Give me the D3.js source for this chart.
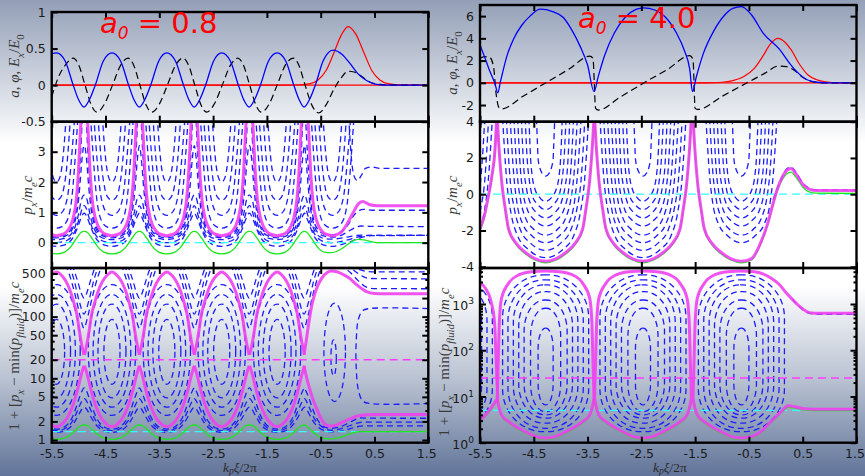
<!DOCTYPE html>
<html><head><meta charset="utf-8">
<script src="https://cdn.jsdelivr.net/npm/d3@7"></script>
<style>
html,body{margin:0;padding:0;}
svg{display:block;}
text{white-space:pre;}
</style></head><body>
<div id="chart"></div>
<script>
var xTicks = [-5.5,-4.5,-3.5,-2.5,-1.5,-0.5,0.5,1.5];
var a0Labels = ['0.8', '4.0'];

// ---------- a0 = 0.8 (left column) ----------
var cellsA = [-5.41,-4.38,-3.36,-2.34,-1.31];    // bucket centres
var xptsA  = [-4.9,-3.87,-2.85,-1.83,-0.81];     // X-points
var lastA  = -0.28;

var laserA = [[-5.5,0],[-1.2,0],[-0.9,0.005],[-0.7,0.02],[-0.55,0.07],[-0.4,0.2],[-0.25,0.45],[-0.12,0.68],[0.01,0.8],[0.15,0.7],[0.3,0.45],[0.45,0.2],[0.6,0.07],[0.75,0.02],[0.95,0.003],[1.2,0],[1.5,0]];
var fieldA = [[-5.5,0.43],[-5.41,0.44],[-5.25,0.33],[-5.1,0],[-5.0,-0.2],[-4.9,-0.3],[-4.8,-0.2],[-4.69,0],[-4.54,0.33],[-4.38,0.44],[-4.22,0.33],[-4.07,0],[-3.97,-0.2],[-3.87,-0.3],[-3.77,-0.2],[-3.66,0],[-3.51,0.33],[-3.36,0.44],[-3.2,0.33],[-3.05,0],[-2.95,-0.2],[-2.85,-0.3],[-2.75,-0.2],[-2.64,0],[-2.49,0.33],[-2.34,0.44],[-2.18,0.33],[-2.03,0],[-1.93,-0.2],[-1.83,-0.3],[-1.73,-0.2],[-1.62,0],[-1.47,0.33],[-1.31,0.44],[-1.15,0.33],[-1.0,0],[-0.9,-0.2],[-0.81,-0.3],[-0.71,-0.2],[-0.6,0],[-0.45,0.34],[-0.27,0.48],[-0.1,0.42],[0.04,0.3],[0.2,0.15],[0.36,0.06],[0.54,0.01],[0.7,0],[1.5,0]];
var potA = [[-5.5,-0.16],[-5.38,0.1],[-5.24,0.28],[-5.1,0.37],[-5.0,0.28],[-4.88,0],[-4.76,-0.28],[-4.66,-0.37],[-4.52,-0.26],[-4.37,0],[-4.22,0.27],[-4.08,0.37],[-3.98,0.28],[-3.86,0],[-3.74,-0.28],[-3.64,-0.37],[-3.5,-0.26],[-3.35,0],[-3.2,0.27],[-3.06,0.37],[-2.96,0.28],[-2.84,0],[-2.72,-0.28],[-2.62,-0.37],[-2.48,-0.26],[-2.33,0],[-2.18,0.27],[-2.04,0.37],[-1.94,0.28],[-1.82,0],[-1.7,-0.28],[-1.6,-0.37],[-1.46,-0.26],[-1.31,0],[-1.16,0.27],[-1.01,0.37],[-0.91,0.28],[-0.79,0],[-0.66,-0.28],[-0.54,-0.38],[-0.4,-0.27],[-0.25,-0.05],[-0.12,0.1],[0.01,0.19],[0.12,0.18],[0.24,0.13],[0.42,0.04],[0.6,0.01],[0.8,0],[1.5,0]];

// px panel, half curves from bucket centre (dx, px)
var sepPxA = [[0,0.23],[0.1,0.27],[0.17,0.33],[0.22,0.43],[0.27,0.6],[0.31,0.82],[0.37,1.47],[0.41,2.46],[0.44,3.56],[0.46,4.2]];
var sepPxTailA = [[-0.28,0.23],[-0.18,0.28],[-0.1,0.38],[0.0,0.65],[0.1,0.98],[0.2,1.28],[0.28,1.36],[0.4,1.26],[0.55,1.22],[1.5,1.22]];
var trapPxA = [
    [[0,0.48],[0.1,0.53],[0.17,0.65],[0.23,0.9],[0.28,1.4],[0.33,2.4],[0.37,3.4],[0.4,4.2]],
    [[0,0.9],[0.09,0.98],[0.16,1.2],[0.22,1.7],[0.27,2.6],[0.31,3.5],[0.34,4.2]],
    [[0,1.4],[0.08,1.5],[0.14,1.85],[0.19,2.5],[0.23,3.4],[0.26,4.2]],
    [[0,2.0],[0.05,2.1],[0.1,2.5],[0.14,3.2],[0.18,4.2]]
];
var passPxA = [
    [[0,0.2],[0.12,0.24],[0.2,0.3],[0.27,0.45],[0.33,0.75],[0.38,1.3],[0.42,2.2],[0.46,3.4],[0.49,4.8],[0.51,6.0]],
    [[0,0.16],[0.12,0.19],[0.2,0.25],[0.28,0.4],[0.34,0.68],[0.39,1.15],[0.43,1.8],[0.47,2.7],[0.51,3.2]],
    [[0,0.1],[0.12,0.13],[0.2,0.18],[0.28,0.3],[0.35,0.55],[0.41,0.95],[0.46,1.4],[0.51,1.57]],
    [[0,0.0],[0.12,0.03],[0.2,0.08],[0.28,0.2],[0.36,0.45],[0.43,0.85],[0.48,1.14],[0.51,1.22]],
    [[0,-0.12],[0.12,-0.09],[0.2,-0.03],[0.3,0.15],[0.38,0.45],[0.45,0.78],[0.51,0.97]]
];
var passPxTailA = [
    [[-0.81,6.0],[-0.79,4.8],[-0.76,3.4],[-0.72,2.2],[-0.68,1.3],[-0.63,0.75],[-0.56,0.45],[-0.48,0.32],[-0.38,0.26],[-0.28,0.26],[-0.18,0.3],[-0.08,0.42],[0.02,0.62],[0.1,0.86],[0.2,1.04],[0.3,1.1],[0.45,1.07],[1.5,1.07]],
    [[-0.81,3.2],[-0.77,2.7],[-0.73,1.8],[-0.69,1.15],[-0.64,0.68],[-0.58,0.4],[-0.5,0.26],[-0.4,0.2],[-0.3,0.18],[-0.2,0.2],[-0.1,0.26],[0.0,0.36],[0.12,0.48],[0.25,0.55],[0.4,0.54],[1.5,0.53]],
    [[-0.81,1.57],[-0.76,1.4],[-0.71,0.95],[-0.65,0.55],[-0.58,0.3],[-0.5,0.18],[-0.4,0.13],[-0.3,0.12],[-0.2,0.13],[-0.05,0.17],[0.1,0.22],[0.25,0.25],[0.4,0.24],[1.5,0.24]],
    [[-0.81,1.22],[-0.78,1.14],[-0.73,0.85],[-0.66,0.45],[-0.58,0.2],[-0.5,0.08],[-0.4,0.02],[-0.3,0.0],[-0.15,0.03],[0.0,0.09],[0.15,0.17],[0.3,0.22],[0.45,0.24],[1.5,0.24]],
    [[-0.81,0.97],[-0.75,0.78],[-0.68,0.45],[-0.6,0.15],[-0.5,-0.03],[-0.4,-0.1],[-0.3,-0.12],[-0.15,-0.08],[0.0,0.0],[0.15,0.1],[0.3,0.19],[0.45,0.23],[1.5,0.24]]
];
var openPxA = [[0.02,4.2],[0.06,3.0],[0.12,2.2],[0.18,2.05],[0.25,2.2],[0.33,2.45],[0.45,2.5],[0.6,2.45],[1.5,2.45]];
var fluidPxA = [[0,-0.37],[0.15,-0.31],[0.27,-0.12],[0.37,0.14],[0.45,0.33],[0.51,0.37]];
var fluidPxTailA = [[-0.81,0.37],[-0.75,0.33],[-0.67,0.14],[-0.57,-0.12],[-0.45,-0.3],[-0.3,-0.33],[-0.15,-0.24],[0.0,-0.06],[0.1,0.06],[0.2,0.11],[0.3,0.09],[0.45,0.03],[0.6,0.0],[1.5,0.0]];

// log panel
var sepUpA = [[0,530],[0.07,490],[0.14,417],[0.2,340],[0.26,253],[0.32,170],[0.38,106],[0.42,62],[0.46,38],[0.51,24]];
var sepLoA = [[0,1.65],[0.07,1.72],[0.14,1.95],[0.2,2.3],[0.26,2.9],[0.32,4.0],[0.38,6.0],[0.42,8.3],[0.46,11.5],[0.51,16]];
var sepUpTailA = [[-0.81,24],[-0.77,40],[-0.72,80],[-0.66,160],[-0.58,280],[-0.48,420],[-0.38,520],[-0.3,550],[-0.2,535],[-0.08,480],[0.05,410],[0.15,340],[0.25,290],[0.35,255],[0.5,238],[0.7,235],[1.5,235]];
var sepLoTailA = [[-0.81,16],[-0.77,11],[-0.72,7.5],[-0.66,5],[-0.58,3.3],[-0.5,2.3],[-0.42,1.8],[-0.34,1.68],[-0.25,1.7],[-0.14,1.86],[0.04,2.19],[0.15,2.4],[0.23,2.5],[0.36,2.56],[0.5,2.6],[1.5,2.6]];
var orbitsA = [[0.44,2.5,330],[0.35,3.4,230],[0.26,4.8,160],[0.15,8,90]];   // half width, min, max
var orbitsLastA = [[-0.26,0.05,11,42],[-0.24,0.2,4.2,165]];               // centre, half width, min, max
var overA = [
    [[0,65],[0.07,100],[0.15,200],[0.25,420],[0.34,700]],
    [[0,110],[0.09,180],[0.18,380],[0.28,700]],
    [[0,200],[0.05,240],[0.12,380],[0.22,700]]
];
var overTailA = [
    [[0.05,700],[0.2,590],[0.35,540],[0.5,530],[1.5,530]],
    [[-0.05,700],[0.12,560],[0.28,450],[0.42,415],[1.5,410]],
    [[-0.15,700],[0.05,520],[0.2,380],[0.35,300],[0.5,285],[1.5,283]]
];
var underA = [
    [[0,1.5],[0.12,1.58],[0.22,1.85],[0.3,2.4],[0.37,3.5],[0.43,5.0],[0.48,6.4],[0.51,7]],
    [[0,1.42],[0.12,1.48],[0.22,1.68],[0.3,2.05],[0.38,2.85],[0.45,3.95],[0.51,4.7]],
    [[0,1.33],[0.12,1.38],[0.22,1.52],[0.32,1.88],[0.4,2.45],[0.47,3.15],[0.51,3.4]]
];
var underTailA = [
    [[-0.81,7],[-0.78,6.4],[-0.73,5.1],[-0.67,3.6],[-0.6,2.5],[-0.52,1.9],[-0.43,1.62],[-0.3,1.55],[-0.15,1.62],[0,1.85],[0.12,2.1],[0.25,2.28],[0.4,2.26],[1.5,2.25]],
    [[-0.81,4.7],[-0.75,4.0],[-0.68,2.9],[-0.6,2.1],[-0.5,1.7],[-0.4,1.5],[-0.3,1.44],[-0.15,1.5],[0,1.65],[0.15,1.85],[0.3,1.96],[0.45,1.95],[1.5,1.95]],
    [[-0.81,3.4],[-0.77,3.2],[-0.7,2.5],[-0.62,1.9],[-0.52,1.55],[-0.4,1.4],[-0.3,1.35],[-0.15,1.38],[0,1.48],[0.15,1.62],[0.3,1.7],[0.45,1.7],[1.5,1.7]]
];
var openLogA = [[1.5,135],[0.4,135],[0.28,125],[0.2,90],[0.16,40],[0.16,15],[0.2,6.5],[0.28,4.3],[0.42,3.9],[1.5,3.9]];
var fluidLogA = [[0,1.02],[0.15,1.07],[0.27,1.24],[0.37,1.5],[0.45,1.7],[0.51,1.75]];
var fluidLogTailA = [[-0.81,1.75],[-0.7,1.5],[-0.6,1.25],[-0.48,1.08],[-0.35,1.04],[-0.2,1.07],[-0.05,1.18],[0.1,1.3],[0.22,1.37],[0.4,1.37],[1.5,1.37]];
var levelsA = {pxFluid: 0, trap: 20, fluid: 1.37};

// ---------- a0 = 4.0 (right column) ----------
var cellsB = [-4.28,-2.47,-0.64];
var xptsB  = [-5.17,-3.38,-1.55];
var edgeB  = -6.07;

var laserB = [[-5.5,0],[-1.3,0],[-1.0,0.05],[-0.8,0.2],[-0.6,0.55],[-0.4,1.3],[-0.24,2.4],[-0.1,3.5],[0.04,4.0],[0.16,3.7],[0.28,3.0],[0.45,1.6],[0.6,0.7],[0.75,0.3],[1.0,0.05],[1.2,0],[1.5,0]];
var fieldB = [[-5.5,3.4],[-5.42,2.4],[-5.33,1.2],[-5.22,-0.1],[-5.17,-0.9],[-5.12,0.1],[-5.0,2.4],[-4.88,3.9],[-4.72,5.2],[-4.57,6.0],[-4.38,6.62],[-4.15,6.4],[-3.95,5.87],[-3.8,4.8],[-3.64,3.3],[-3.5,1.6],[-3.38,-0.8],[-3.3,0.6],[-3.18,2.5],[-3.0,4.5],[-2.8,5.9],[-2.6,6.6],[-2.46,6.75],[-2.25,6.55],[-2.05,5.9],[-1.85,4.5],[-1.7,2.9],[-1.6,1.2],[-1.55,-0.8],[-1.48,0.5],[-1.35,2.6],[-1.15,4.7],[-0.95,6.1],[-0.8,6.7],[-0.64,6.85],[-0.45,6.1],[-0.24,4.5],[0.07,3.0],[0.25,1.8],[0.38,1.05],[0.57,0.3],[0.76,0.05],[1.0,0],[1.5,0]];
var potB = [[-5.5,2.2],[-5.42,2.35],[-5.32,2.3],[-5.25,1.5],[-5.2,-1.0],[-5.15,-2.2],[-5.1,-2.35],[-4.7,-1.21],[-4.28,-0.01],[-3.85,1.22],[-3.46,2.4],[-3.4,2.2],[-3.35,-2.3],[-3.3,-2.45],[-2.9,-1.3],[-2.45,0],[-2.0,1.25],[-1.6,2.45],[-1.54,2.1],[-1.5,-2.3],[-1.45,-2.4],[-1.0,-1.22],[-0.55,-0.04],[-0.2,0.87],[0.04,1.5],[0.2,1.45],[0.35,1.1],[0.5,0.5],[0.65,0.15],[0.8,0.02],[1.0,0],[1.5,0]];

var sepPxB = [[0,-3.7],[0.2,-3.55],[0.38,-3.2],[0.55,-2.7],[0.69,-1.9],[0.75,-0.8],[0.81,0.5],[0.87,2.7],[0.9,4.2]];
var sepPxEdgeB = [[-5.5,-1.9],[-5.42,-1.2],[-5.35,-0.2],[-5.28,1.0],[-5.22,2.5],[-5.19,4.2]];
var sepPxTailB = [[-0.64,-3.75],[-0.45,-3.55],[-0.3,-2.8],[-0.15,-1.6],[-0.05,-0.5],[0.03,0.3],[0.12,0.95],[0.2,1.3],[0.28,1.42],[0.38,1.1],[0.5,0.55],[0.62,0.28],[0.75,0.2],[1.5,0.2]];
var fluidPxB = [[0,-3.78],[0.2,-3.63],[0.38,-3.28],[0.55,-2.78],[0.69,-1.98],[0.75,-0.88],[0.81,0.42],[0.87,2.62],[0.9,4.2]];
var fluidPxEdgeB = [[-5.5,-2.0],[-5.42,-1.3],[-5.35,-0.3],[-5.28,0.9],[-5.22,2.4],[-5.19,4.2]];
var fluidPxTailB = [[-0.64,-3.83],[-0.45,-3.63],[-0.3,-2.88],[-0.15,-1.68],[-0.05,-0.58],[0.03,0.2],[0.12,0.8],[0.2,1.12],[0.28,1.22],[0.38,0.92],[0.5,0.4],[0.62,0.13],[0.75,0.06],[1.5,0.05]];
var trapPxB = [
    [[0,-3.5],[0.32,-3.05],[0.52,-2.3],[0.64,-1.1],[0.72,0.63],[0.8,4.2]],
    [[0,-3.1],[0.29,-2.67],[0.47,-1.96],[0.58,-0.83],[0.66,0.81],[0.73,4.2]],
    [[0,-2.68],[0.26,-2.28],[0.43,-1.61],[0.53,-0.54],[0.59,0.99],[0.66,4.2]],
    [[0,-2.26],[0.24,-1.88],[0.38,-1.26],[0.47,-0.26],[0.53,1.18],[0.59,4.2]],
    [[0,-1.76],[0.21,-1.41],[0.34,-0.84],[0.42,0.08],[0.47,1.41],[0.52,4.2]],
    [[0,-1.31],[0.18,-0.99],[0.29,-0.46],[0.36,0.39],[0.41,1.61],[0.45,4.2]],
    [[0,-0.85],[0.15,-0.56],[0.25,-0.07],[0.3,0.7],[0.34,1.82],[0.38,4.2]],
    [[0,-0.4],[0.12,-0.14],[0.2,0.3],[0.25,1.01],[0.28,2.02],[0.31,4.2]],
    [[0,1.0],[0.07,1.18],[0.11,1.48],[0.14,1.96],[0.15,2.65],[0.17,4.2]]
];
var passPxTailB = [[-0.05,-0.3],[0.05,0.5],[0.14,1.1],[0.21,1.42],[0.28,1.5],[0.38,1.18],[0.5,0.62],[0.62,0.33],[0.75,0.24],[1.5,0.24]];

var sepUpB = [[0,5200],[0.26,5000],[0.5,4270],[0.69,2800],[0.82,1330],[0.86,400],[0.88,60],[0.9,9]];
var sepLoB = [[0,1.25],[0.19,1.35],[0.32,1.6],[0.5,2.05],[0.69,2.86],[0.82,4.0],[0.87,6.0],[0.9,9]];
var sepUpEdgeB = [[-5.5,2900],[-5.4,2200],[-5.3,1200],[-5.23,400],[-5.2,60],[-5.17,9]];
var sepLoEdgeB = [[-5.5,3.1],[-5.4,4.0],[-5.3,5.5],[-5.22,7.5],[-5.17,9]];
var sepUpTailB = [[-0.64,5200],[-0.4,5000],[-0.24,4500],[-0.1,3700],[0.07,2600],[0.2,1700],[0.38,1035],[0.5,780],[0.63,650],[0.8,630],[1.5,630]];
var sepLoTailB = [[-0.64,1.22],[-0.45,1.35],[-0.24,1.9],[-0.1,2.8],[0.01,3.7],[0.12,5.0],[0.23,6.3],[0.35,6.0],[0.5,5.5],[0.7,5.3],[1.5,5.3]];
var fluidLogB = [[0,1.18],[0.19,1.27],[0.32,1.5],[0.5,1.92],[0.69,2.68],[0.82,3.75],[0.87,5.6],[0.9,8.5]];
var fluidLogEdgeB = [[-5.5,2.9],[-5.4,3.75],[-5.3,5.1],[-5.22,7.0],[-5.17,8.5]];
var fluidLogTailB = [[-0.64,1.15],[-0.45,1.27],[-0.24,1.78],[-0.1,2.62],[0.01,3.45],[0.12,4.65],[0.23,5.85],[0.35,5.6],[0.5,5.15],[0.7,4.95],[1.5,4.95]];
var orbitsB = [[0.8,1.73,4270],[0.7,2.05,3330],[0.6,2.64,2590],[0.5,3.39,1860],[0.4,4.0,1220],[0.28,4.7,810],[0.14,6.6,300]];
var overTailB = [[0.3,1300],[0.45,850],[0.6,640],[0.8,600],[1.5,600]];
var levelsB = {pxFluid: 0, trap: 25, fluid: 5};

// ---------- helpers ----------
function mirror(half) {
    var left = half.slice(1).map(function(p) { return [-p[0], p[1]]; }).reverse();
    return left.concat(half);
}
function at(pts, c) { return pts.map(function(p) { return [p[0] + c, p[1]]; }); }
function leftOf(half) { return mirror(half).filter(function(p) { return p[0] <= 0; }); }
function join(parts) {
    var out = [];
    parts.forEach(function(pts) {
	pts.forEach(function(p) {
	    if (!out.length || p[0] > out[out.length-1][0] + 1e-6) out.push(p);
	});
    });
    return out;
}

var W = 865, H = 476, clipN = 0;
var svg = d3.select('#chart').append('svg').attr('width', W).attr('height', H);
var defs = svg.append('defs');
var grad = defs.append('linearGradient').attr('id', 'bg')
    .attr('x1', 0).attr('y1', 0).attr('x2', 0).attr('y2', 1);
[[0,'#939fb7'],[0.22,'#e1e5ec'],[0.3,'#ffffff'],[0.6,'#ffffff'],[0.8,'#b8c1d1'],[1,'#617499']].forEach(function(s) {
    grad.append('stop').attr('offset', s[0]).attr('stop-color', s[1]);
});
svg.append('rect').attr('width', W).attr('height', H).attr('fill', 'url(#bg)');

function panel(cfg) {
    var x = d3.scaleLinear().domain([-5.5, 1.5]).range([cfg.x0, cfg.x1]);
    var y = (cfg.log ? d3.scaleLog() : d3.scaleLinear()).domain(cfg.dom).range([cfg.y1, cfg.y0]);
    var id = 'clip' + (clipN++);
    defs.append('clipPath').attr('id', id).append('rect')
	.attr('x', cfg.x0).attr('y', cfg.y0)
	.attr('width', cfg.x1 - cfg.x0).attr('height', cfg.y1 - cfg.y0);
    var g = svg.append('g').attr('clip-path', 'url(#' + id + ')');
    return {x: x, y: y, g: g, cfg: cfg};
}

function line(p, pts, o) {
    var gen = d3.line()
	.x(function(d) { return p.x(d[0]); })
	.y(function(d) { return p.y(d[1]); })
	.curve(o.curve || d3.curveMonotoneX);
    p.g.append('path').attr('d', gen(pts))
	.attr('fill', 'none')
	.attr('stroke', o.c)
	.attr('stroke-width', o.w || 1.3)
	.attr('stroke-dasharray', o.dash || null)
	.attr('stroke-opacity', o.op || 1)
	.attr('stroke-linecap', 'butt');
}
function hline(p, v, o) { line(p, [[-5.5, v], [1.5, v]], o); }

var BLUE_D = {c: '#1c1cff', w: 1.3, dash: '6,4'};
var CYAN_D = {c: '#33ffff', w: 1.3, dash: '8,5'};
var MAG_D  = {c: '#ff3cff', w: 1.4, dash: '8,5'};
var MAG    = {c: '#f040f0', w: 3, op: 0.9};
var GREEN  = {c: '#1ee61e', w: 1.3};

function axes(p, yt, ym, labelFn) {
    var c = p.cfg, g = svg.append('g');
    var xb = g.append('g').attr('transform', 'translate(0,' + c.y1 + ')')
	.call(d3.axisBottom(p.x).tickValues(xTicks).tickSize(-6).tickPadding(6).tickFormat(c.xlab ? String : ''));
    g.append('g').attr('transform', 'translate(0,' + c.y0 + ')')
	.call(d3.axisTop(p.x).tickValues(xTicks).tickSize(-6).tickFormat(''));
    var yl = g.append('g').attr('transform', 'translate(' + c.x0 + ',0)')
	.call(d3.axisLeft(p.y).tickValues(yt).tickSize(-6).tickPadding(6).tickFormat(labelFn ? '' : String));
    g.append('g').attr('transform', 'translate(' + c.x1 + ',0)')
	.call(d3.axisRight(p.y).tickValues(yt).tickSize(-6).tickFormat(''));
    if (ym) {
	g.append('g').attr('transform', 'translate(' + c.x0 + ',0)')
	    .call(d3.axisLeft(p.y).tickValues(ym).tickSize(-3).tickFormat(''));
	g.append('g').attr('transform', 'translate(' + c.x1 + ',0)')
	    .call(d3.axisRight(p.y).tickValues(ym).tickSize(-3).tickFormat(''));
    }
    g.selectAll('.domain').remove();
    g.selectAll('.tick line').attr('stroke', '#000').attr('stroke-width', 2);
    g.selectAll('.tick text')
	.attr('font-family', 'DejaVu Sans, sans-serif')
	.attr('font-size', 12.5)
	.attr('fill', '#1a1a1a');
    if (c.xlab) xb.selectAll('.tick text').filter(function(d) { return d === 1.5; }).attr('dx', -2);
    if (labelFn) yl.selectAll('.tick text').each(labelFn);
    g.append('rect')
	.attr('x', c.x0).attr('y', c.y0)
	.attr('width', c.x1 - c.x0).attr('height', c.y1 - c.y0)
	.attr('fill', 'none').attr('stroke', '#000').attr('stroke-width', 2.4);
}

function rich(x, y, parts, size) {
    var t = svg.append('text')
	.attr('transform', 'translate(' + x + ',' + y + ') rotate(-90)')
	.attr('text-anchor', 'middle')
	.attr('font-family', 'Liberation Serif, DejaVu Serif, serif')
	.attr('font-size', size).attr('fill', '#3a3a3a');
    var shift = 0;
    parts.forEach(function(p) {
	var want = p.sub ? size * 0.3 : 0;
	t.append('tspan')
	    .attr('dy', want - shift)
	    .attr('font-style', p.i ? 'italic' : 'normal')
	    .attr('font-size', p.sub ? size * 0.72 : size)
	    .text(p.t);
	shift = want;
    });
    return t;
}

var titleTop = [{t:'a',i:1},{t:', '},{t:'φ',i:1},{t:', '},{t:'E',i:1},{t:'x',i:1,sub:1},{t:'/'},{t:'E',i:1},{t:'0',sub:1}];
var titleMid = [{t:'p',i:1},{t:'x',i:1,sub:1},{t:'/'},{t:'m',i:1},{t:'e',i:1,sub:1},{t:'c',i:1}];
var titleLog = [{t:'1 + ['},{t:'p',i:1},{t:'x',i:1,sub:1},{t:' − min('},{t:'p',i:1},{t:'fluid',i:1,sub:1},{t:')]/'},{t:'m',i:1},{t:'e',i:1,sub:1},{t:'c',i:1}];
var titleX = [{t:'k',i:1},{t:'p',i:1,sub:1},{t:'ξ',i:1},{t:'/2π'}];

function xTitle(x, y) {
    var t = svg.append('text').attr('x', x).attr('y', y).attr('text-anchor', 'middle')
	.attr('font-family', 'Liberation Serif, DejaVu Serif, serif')
	.attr('font-size', 13.5).attr('fill', '#2a2a2a');
    var shift = 0;
    titleX.forEach(function(p) {
	var want = p.sub ? 2 : 0;
	t.append('tspan').attr('dy', want - shift)
	    .attr('font-style', p.i ? 'italic' : 'normal')
	    .attr('font-size', p.sub ? 9.5 : 13.5).text(p.t);
	shift = want;
    });
}

function bigLabel(x, y, val) {
    var t = svg.append('text').attr('x', x).attr('y', y)
	.attr('fill', '#ff0000')
	.attr('font-family', 'DejaVu Sans, sans-serif')
	.attr('font-size', 29);
    t.append('tspan').attr('font-style', 'italic').text('a');
    t.append('tspan').attr('font-style', 'italic').attr('font-size', 17).attr('dy', 6).text('0');
    t.append('tspan').attr('dy', -6).text(' = ' + val);
}

// ---------- left column ----------
var A1 = panel({x0: 51.7, x1: 428.3, y0: 12, y1: 121.7, dom: [-0.5, 1]});
var A2 = panel({x0: 51.7, x1: 428.3, y0: 121.7, y1: 268, dom: [-0.835, 3.99]});
var A3 = panel({x0: 51.7, x1: 428.3, y0: 268, y1: 442.7, dom: [0.904, 614], log: true, xlab: true});

hline(A1, 0, {c: '#ff0000', w: 1.2});
line(A1, laserA, {c: '#ff0000', w: 1.2});
line(A1, potA, {c: '#000', w: 1.2, dash: '7,4'});
line(A1, fieldA, {c: '#0000ff', w: 1.3});

cellsA.concat([lastA]).forEach(function(c) {
    trapPxA.forEach(function(h) { line(A2, at(mirror(h), c), BLUE_D); });
});
passPxA.forEach(function(h, i) {
    line(A2, join(cellsA.map(function(c) { return at(mirror(h), c); }).concat([passPxTailA[i]])), BLUE_D);
});
line(A2, openPxA, BLUE_D);
hline(A2, levelsA.pxFluid, CYAN_D);
line(A2, join(cellsA.map(function(c) { return at(mirror(fluidPxA), c); }).concat([fluidPxTailA])), GREEN);
cellsA.forEach(function(c) { line(A2, at(mirror(sepPxA), c), MAG); });
line(A2, join([at(leftOf(sepPxA), lastA), sepPxTailA]), MAG);

cellsA.forEach(function(c) {
    orbitsA.forEach(function(o) {
	A3.g.append('ellipse')
	    .attr('cx', A3.x(c)).attr('cy', (A3.y(o[1]) + A3.y(o[2])) / 2)
	    .attr('rx', A3.x(c + o[0]) - A3.x(c)).attr('ry', (A3.y(o[1]) - A3.y(o[2])) / 2)
	    .attr('fill', 'none').attr('stroke', BLUE_D.c).attr('stroke-width', 1.3).attr('stroke-dasharray', BLUE_D.dash);
    });
});
orbitsLastA.forEach(function(o) {
    A3.g.append('ellipse')
	.attr('cx', A3.x(o[0])).attr('cy', (A3.y(o[2]) + A3.y(o[3])) / 2)
	.attr('rx', A3.x(o[0] + o[1]) - A3.x(o[0])).attr('ry', (A3.y(o[2]) - A3.y(o[3])) / 2)
	.attr('fill', 'none').attr('stroke', BLUE_D.c).attr('stroke-width', 1.3).attr('stroke-dasharray', BLUE_D.dash);
});
xptsA.forEach(function(xp) {
    overA.forEach(function(h) { line(A3, at(mirror(h), xp), BLUE_D); });
});
overTailA.forEach(function(t) { line(A3, t, BLUE_D); });
underA.forEach(function(h, i) {
    line(A3, join(cellsA.map(function(c) { return at(mirror(h), c); }).concat([underTailA[i]])), BLUE_D);
});
line(A3, openLogA, Object.assign({curve: d3.curveCatmullRom}, BLUE_D));
hline(A3, levelsA.trap, MAG_D);
hline(A3, levelsA.fluid, CYAN_D);
line(A3, join(cellsA.map(function(c) { return at(mirror(fluidLogA), c); }).concat([fluidLogTailA])), GREEN);
cellsA.forEach(function(c) {
    line(A3, at(mirror(sepUpA), c), MAG);
    line(A3, at(mirror(sepLoA), c), MAG);
});
line(A3, sepUpTailA, MAG);
line(A3, sepLoTailA, MAG);

// ---------- right column ----------
var B1 = panel({x0: 480, x1: 856.5, y0: 5, y1: 121.7, dom: [-3.5, 7]});
var B2 = panel({x0: 480, x1: 856.5, y0: 121.7, y1: 268, dom: [-4.07, 4]});
var B3 = panel({x0: 480, x1: 856.5, y0: 268, y1: 442.7, dom: [1, 6010], log: true, xlab: true});

hline(B1, 0, {c: '#ff0000', w: 1.2});
line(B1, laserB, {c: '#ff0000', w: 1.2});
line(B1, potB, {c: '#000', w: 1.2, dash: '7,4'});
line(B1, fieldB, {c: '#0000ff', w: 1.3});

[edgeB].concat(cellsB).forEach(function(c, k) {
    trapPxB.forEach(function(h, i) {
	if (k === cellsB.length && i < 2) return;
	line(B2, at(mirror(h), c), BLUE_D);
    });
});
line(B2, passPxTailB, BLUE_D);
hline(B2, levelsB.pxFluid, CYAN_D);
line(B2, fluidPxEdgeB, GREEN);
cellsB.slice(0, 2).forEach(function(c) { line(B2, at(mirror(fluidPxB), c), GREEN); });
line(B2, join([at(leftOf(fluidPxB), cellsB[2]), fluidPxTailB]), GREEN);
line(B2, sepPxEdgeB, MAG);
cellsB.slice(0, 2).forEach(function(c) { line(B2, at(mirror(sepPxB), c), MAG); });
line(B2, join([at(leftOf(sepPxB), cellsB[2]), sepPxTailB]), MAG);

[edgeB].concat(cellsB).forEach(function(c) {
    orbitsB.forEach(function(o) {
	var x0 = B3.x(c - o[0]), x1 = B3.x(c + o[0]), yt = B3.y(o[2]), yb = B3.y(o[1]);
	B3.g.append('rect')
	    .attr('x', x0).attr('y', yt).attr('width', x1 - x0).attr('height', yb - yt)
	    .attr('rx', (x1 - x0) * 0.48).attr('ry', (yb - yt) * 0.27)
	    .attr('fill', 'none').attr('stroke', BLUE_D.c).attr('stroke-width', 1.3).attr('stroke-dasharray', BLUE_D.dash);
    });
});
line(B3, overTailB, BLUE_D);
hline(B3, levelsB.trap, MAG_D);
hline(B3, levelsB.fluid, CYAN_D);
line(B3, fluidLogEdgeB, GREEN);
cellsB.slice(0, 2).forEach(function(c) { line(B3, at(mirror(fluidLogB), c), GREEN); });
line(B3, join([at(leftOf(fluidLogB), cellsB[2]), fluidLogTailB]), GREEN);
line(B3, sepUpEdgeB, MAG);
line(B3, sepLoEdgeB, MAG);
cellsB.slice(0, 2).forEach(function(c) {
    line(B3, at(mirror(sepUpB), c), MAG);
    line(B3, at(mirror(sepLoB), c), MAG);
});
line(B3, join([at(leftOf(sepUpB), cellsB[2]), sepUpTailB]), MAG);
line(B3, join([at(leftOf(sepLoB), cellsB[2]), sepLoTailB]), MAG);

// ---------- axes, frames, text ----------
var sup = function(d) {
    var t = d3.select(this);
    t.text('10').attr('dy', '0.45em');
    t.append('tspan').attr('dy', -6).attr('font-size', 9).text(Math.round(Math.log10(d)));
};
axes(A1, [-0.5, 0, 0.5, 1]);
axes(A2, [0, 1, 2, 3]);
axes(A3, [1, 2, 5, 10, 20, 50, 100, 200, 500], [3, 4, 6, 7, 8, 9, 30, 40, 60, 70, 80, 90, 300, 400, 600]);
axes(B1, [-2, 0, 2, 4, 6]);
axes(B2, [-4, -2, 0, 2, 4]);
axes(B3, [1, 10, 100, 1000], [2, 3, 4, 5, 6, 7, 8, 9, 20, 30, 40, 50, 60, 70, 80, 90, 200, 300, 400, 500, 600, 700, 800, 900, 2000, 3000, 4000, 5000, 6000], sup);

rich(19, 66, titleTop, 15);
rich(32, 195, titleMid, 15);
rich(19, 356, titleLog, 15);
rich(457, 63, titleTop, 15);
rich(457, 195, titleMid, 15);
rich(449, 362, titleLog, 15);
xTitle(240, 472);
xTitle(670, 472);

bigLabel(100, 33, a0Labels[0]);
bigLabel(578, 28, a0Labels[1]);
</script>
</body></html>
